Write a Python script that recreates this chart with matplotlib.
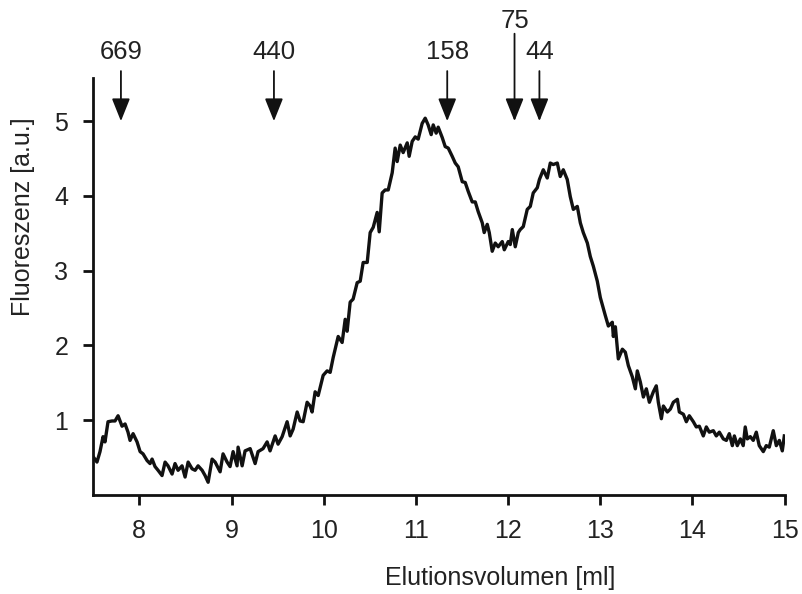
import numpy as np
import matplotlib
matplotlib.use('Agg')
import matplotlib.pyplot as plt

plt.rcParams['font.family'] = ['Liberation Sans', 'DejaVu Sans']

# elution volume [ml] and fluorescence [a.u.]
volume = [
    7.50, 7.54, 7.573, 7.606, 7.627, 7.660, 7.703, 7.736, 7.769, 7.812,
    7.845, 7.877, 7.899, 7.932, 7.975, 8.008, 8.040, 8.084, 8.116, 8.138,
    8.170, 8.203, 8.246, 8.279, 8.311, 8.355, 8.387, 8.420, 8.463, 8.496,
    8.529, 8.572, 8.605, 8.637, 8.681, 8.713, 8.746, 8.789, 8.822, 8.876,
    8.908, 8.952, 8.984, 9.017, 9.060, 9.071, 9.115, 9.147, 9.202, 9.256,
    9.288, 9.342, 9.386, 9.418, 9.473, 9.505, 9.549, 9.603, 9.636, 9.668,
    9.712, 9.744, 9.777, 9.820, 9.853, 9.874, 9.907, 9.940, 9.994, 10.037,
    10.070, 10.103, 10.157, 10.200, 10.233, 10.254, 10.287, 10.319, 10.363, 10.396,
    10.428, 10.472, 10.504, 10.537, 10.580, 10.602, 10.634, 10.667, 10.700, 10.743,
    10.775, 10.797, 10.830, 10.862, 10.906, 10.927, 10.960, 10.993, 11.025, 11.068,
    11.101, 11.133, 11.166, 11.188, 11.220, 11.242, 11.286, 11.318, 11.351, 11.394,
    11.427, 11.459, 11.503, 11.535, 11.568, 11.611, 11.644, 11.676, 11.720, 11.741,
    11.774, 11.796, 11.828, 11.861, 11.893, 11.937, 11.959, 12.002, 12.024, 12.046,
    12.078, 12.111, 12.132, 12.165, 12.208, 12.241, 12.273, 12.317, 12.340, 12.382,
    12.425, 12.458, 12.490, 12.534, 12.566, 12.599, 12.642, 12.675, 12.708, 12.751,
    12.784, 12.816, 12.860, 12.892, 12.925, 12.968, 13.001, 13.055, 13.088, 13.131,
    13.142, 13.164, 13.196, 13.240, 13.272, 13.305, 13.348, 13.381, 13.402, 13.435,
    13.468, 13.500, 13.533, 13.576, 13.608, 13.630, 13.663, 13.685, 13.728, 13.761,
    13.793, 13.837, 13.858, 13.902, 13.934, 13.966, 14.010, 14.042, 14.075, 14.118,
    14.151, 14.183, 14.227, 14.259, 14.292, 14.335, 14.368, 14.400, 14.433, 14.455,
    14.487, 14.520, 14.551, 14.573, 14.595, 14.628, 14.660, 14.693, 14.725, 14.769,
    14.801, 14.834, 14.877, 14.910, 14.943, 14.975, 14.997,
]
fluor = [
    0.51, 0.44, 0.58, 0.78, 0.71, 0.98, 0.99, 0.99, 1.06, 0.92,
    0.95, 0.84, 0.73, 0.82, 0.71, 0.58, 0.55, 0.46, 0.42, 0.48,
    0.38, 0.33, 0.26, 0.44, 0.39, 0.28, 0.42, 0.33, 0.39, 0.24,
    0.44, 0.35, 0.33, 0.39, 0.33, 0.26, 0.17, 0.48, 0.44, 0.31,
    0.55, 0.44, 0.38, 0.58, 0.39, 0.64, 0.39, 0.59, 0.62, 0.42,
    0.58, 0.62, 0.71, 0.59, 0.79, 0.68, 0.78, 0.98, 0.79, 0.88,
    1.11, 0.99, 0.98, 1.24, 1.19, 1.11, 1.38, 1.33, 1.60, 1.66,
    1.64, 1.84, 2.12, 2.04, 2.35, 2.19, 2.58, 2.62, 2.84, 2.86,
    3.11, 3.11, 3.51, 3.58, 3.78, 3.52, 4.04, 4.08, 4.08, 4.31,
    4.64, 4.46, 4.68, 4.58, 4.71, 4.53, 4.73, 4.79, 4.76, 4.97,
    5.04, 4.95, 4.82, 4.95, 4.84, 4.92, 4.78, 4.66, 4.64, 4.53,
    4.44, 4.39, 4.19, 4.18, 4.06, 3.92, 3.92, 3.79, 3.64, 3.51,
    3.62, 3.51, 3.26, 3.37, 3.32, 3.39, 3.28, 3.39, 3.35, 3.55,
    3.32, 3.51, 3.55, 3.59, 3.82, 3.86, 4.04, 4.11, 4.22, 4.35,
    4.24, 4.44, 4.42, 4.44, 4.26, 4.35, 4.22, 3.99, 3.82, 3.86,
    3.64, 3.51, 3.37, 3.19, 3.06, 2.86, 2.64, 2.40, 2.26, 2.31,
    2.12, 2.25, 1.82, 1.95, 1.91, 1.73, 1.58, 1.42, 1.66, 1.51,
    1.31, 1.42, 1.24, 1.38, 1.46, 1.24, 1.02, 1.19, 1.11, 1.15,
    1.24, 1.28, 1.11, 1.08, 0.98, 1.06, 0.98, 0.91, 0.92, 0.79,
    0.91, 0.84, 0.86, 0.79, 0.84, 0.75, 0.73, 0.82, 0.66, 0.79,
    0.66, 0.75, 0.66, 0.91, 0.75, 0.78, 0.73, 0.84, 0.66, 0.58,
    0.66, 0.64, 0.86, 0.66, 0.73, 0.59, 0.79,
]

# marker proteins (kDa) and their elution volumes
marker_labels = ['669', '440', '158', '75', '44']
marker_pos = [7.80, 9.46, 11.34, 12.07, 12.34]

fig = plt.figure(figsize=(8.02, 5.94), dpi=100)
ax = fig.add_axes([0.1163, 0.1667, 0.862, 0.7023])

ax.plot(volume, fluor, color='#111111', lw=2.4, solid_joinstyle='round')

ax.set_xlim(7.5, 15)
ax.set_ylim(0, 5.58)
ax.set_xticks([8, 9, 10, 11, 12, 13, 14, 15])
ax.set_yticks([1, 2, 3, 4, 5])

for s in ['top', 'right']:
    ax.spines[s].set_visible(False)
for s in ['left', 'bottom']:
    ax.spines[s].set_linewidth(2.0)
    ax.spines[s].set_color('#111111')

ax.tick_params(direction='out', length=7, width=2.0, colors='#111111',
               labelsize=18, labelcolor='#222222')
ax.tick_params(axis='x', pad=10)
ax.tick_params(axis='y', pad=11)

ax.set_xlabel('Elutionsvolumen [ml]', fontsize=18, color='#222222', va='center')
ax.set_ylabel('Fluoreszenz [a.u.]', fontsize=18, color='#222222')
ax.xaxis.set_label_coords(0.589, -0.2)
ax.yaxis.set_label_coords(-0.084, 0.668)

for lab, x in zip(marker_labels, marker_pos):
    top = 6.17 if lab == '75' else 5.67
    ty = 6.34 if lab == '75' else 5.93
    ax.annotate('', xy=(x, 5.0), xytext=(x, top), xycoords='data',
                annotation_clip=False,
                arrowprops=dict(arrowstyle='-|>,head_length=1.0,head_width=0.4',
                                mutation_scale=14, color='#111111', lw=1.3,
                                shrinkA=0, shrinkB=0))
    ax.text(x, ty, lab, ha='center', va='center', fontsize=18.5,
            color='#222222', clip_on=False)

fig.savefig('out.png', dpi=100)
